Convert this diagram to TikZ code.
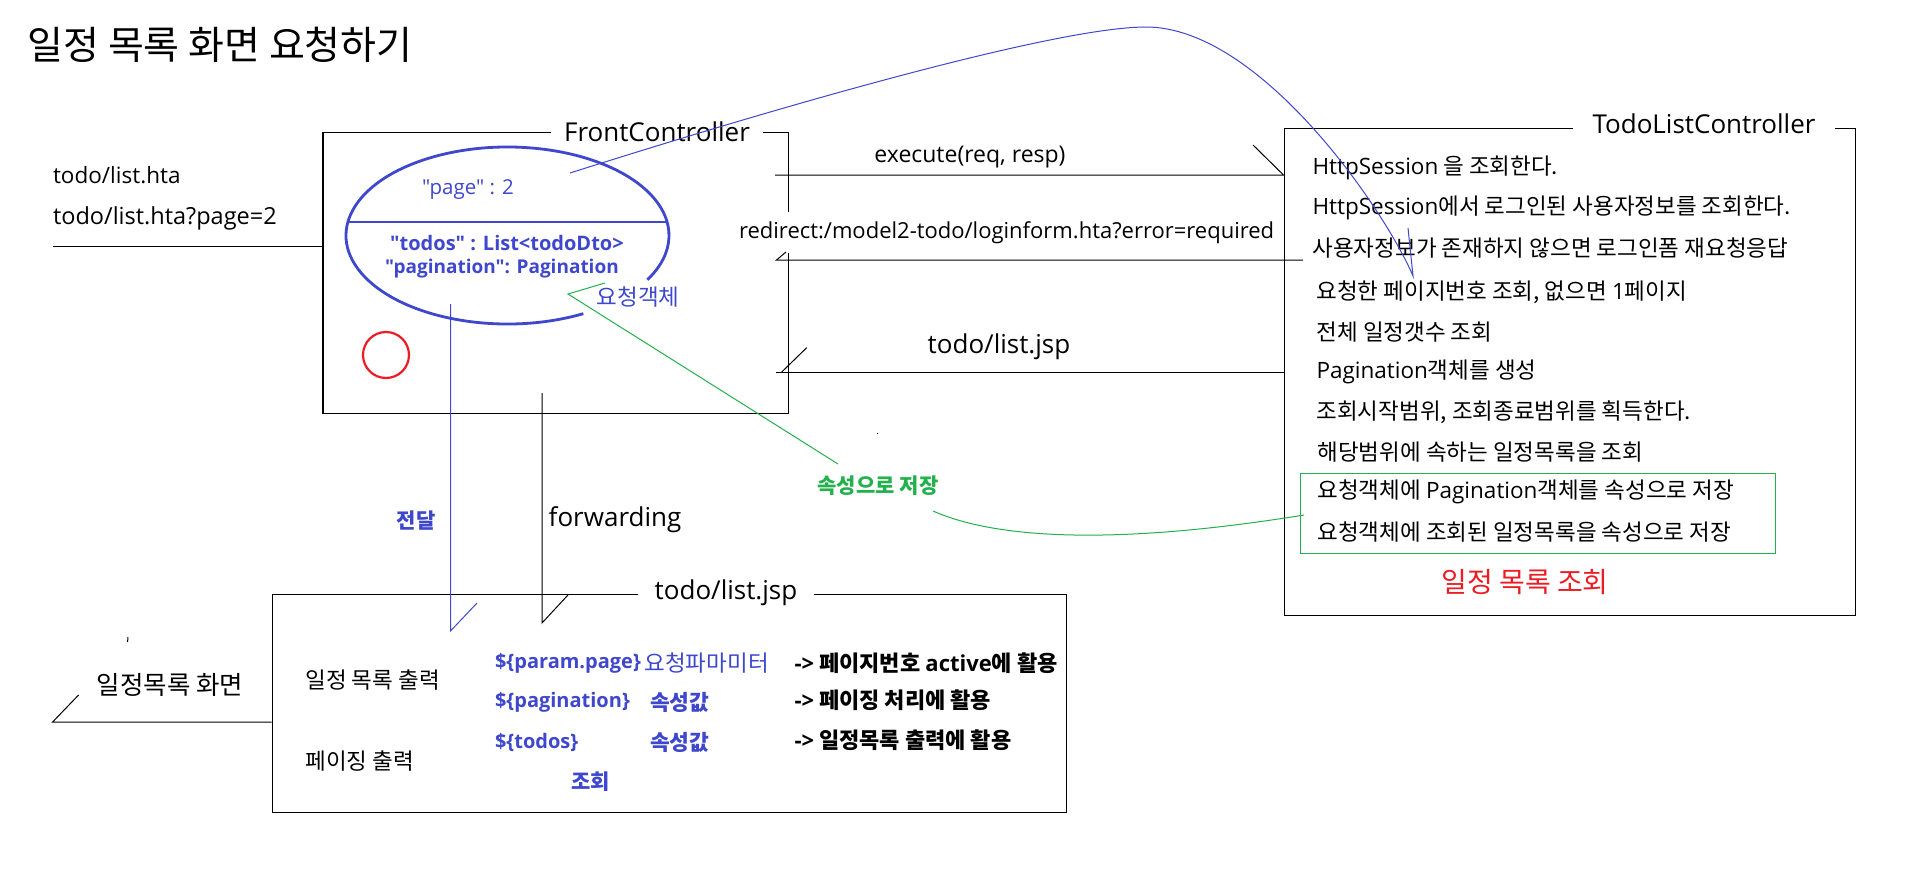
\documentclass[tikz,border=0pt]{standalone}
\usepackage{fontspec}
\setmainfont{Noto Sans CJK KR}
\newfontfamily\latf{Open Sans}
\newcommand\fsz[1]{\fontsize{#1}{#1}\selectfont}
\definecolor{pblue}{RGB}{63,72,204}
\definecolor{pgreen}{RGB}{34,177,76}
\definecolor{pred}{RGB}{237,28,36}
\begin{document}
\begin{tikzpicture}[x=1pt,y=-1pt,
  line width=1.1pt,
  lbl/.style={inner sep=0pt},
  boxs/.style={draw, line width=1.2pt, inner sep=0pt, anchor=north west},
  ttlgap/.style={fill=white, inner ysep=0pt, font=\latf\fsz{26}},
  kr/.style={inner sep=0pt, font=\fsz{22.5}},
  stroke/.style={line width=1pt},
]
\useasboundingbox (0,0) rectangle (1907,873);
\fill[white] (0,0) rectangle (1907,873);

% title
\node[lbl, anchor=west, font=\fsz{39}] (title) at (27,45) {일정 목록 화면 요청하기};

% request urls
\node[lbl, anchor=west, font=\latf\fsz{22.5}] (req1) at (52.5,175) {todo/list.hta};
\node[lbl, anchor=west, font=\latf\fsz{23.5}] (req2) at (52.5,218.5) {todo/list.hta?page=2};

% boxes
\node[boxs, minimum width=465.6pt, minimum height=281pt] (fc) at (322.4,132) {};
\node[boxs, minimum width=571.5pt, minimum height=487pt] (tlc) at (1283.5,128) {};
\node[boxs, minimum width=794.5pt, minimum height=218pt] (jsp) at (271.5,594) {};
\node[boxs, draw=pgreen, line width=1pt, minimum width=475pt, minimum height=80pt] (gbox) at (1300,473) {};

\node[ttlgap, inner xsep=13pt] (fct) at (657,132) {FrontController};
\node[ttlgap, inner xsep=20pt] (tlct) at (1704,124) {TodoListController};
\node[ttlgap, inner xsep=17pt] (jspt) at (726,592.5) {todo/list.jsp};

% request object ellipse
\draw[pblue, line width=2.8pt] (507.5,235.5) ++(62:161.5 and 88.5)
  arc[start angle=62, end angle=390, x radius=161.5, y radius=88.5];
\draw[pblue, line width=2.8pt] (347.9,222) -- (667.1,222);
\node[lbl, text=pblue, font=\latf\fsz{20.5}] (pg) at (468,190) {"page" : 2};
\node[lbl, text=pblue, font=\latf\bfseries\fsz{20}] (todos) at (507,243.5) {"todos" : List<todoDto>};
\node[lbl, text=pblue, font=\latf\bfseries\fsz{19}] (pagi) at (502,268.5) {"pagination": Pagination};
\node[lbl, text=pblue, font=\fsz{22.5}] (reqobj) at (638,297.5) {요청객체};

\draw[pred, line width=2.2pt] (386,355) circle[radius=23];

% TodoListController texts
\node[kr, anchor=west] (r1) at (1312,168) {{\latf HttpSession} 을 조회한다.};
\node[kr, anchor=west] (r2) at (1312,208) {{\latf HttpSession}에서 로그인된 사용자정보를 조회한다.};
\node[kr, anchor=west] (r3) at (1312,248) {사용자정보가 존재하지 않으면 로그인폼 재요청응답};
\node[kr, anchor=west] (r4) at (1316,292) {요청한 페이지번호 조회, 없으면 {\latf 1}페이지};
\node[kr, anchor=west] (r5) at (1316,332) {전체 일정갯수 조회};
\node[kr, anchor=west] (r6) at (1316,372) {{\latf Pagination}객체를 생성};
\node[kr, anchor=west] (r7) at (1316,412) {조회시작범위, 조회종료범위를 획득한다.};
\node[kr, anchor=west] (r8) at (1317,452) {해당범위에 속하는 일정목록을 조회};
\node[kr, anchor=west] (r9) at (1317,492) {요청객체에 {\latf Pagination}객체를 속성으로 저장};
\node[kr, anchor=west] (r10) at (1317,532) {요청객체에 조회된 일정목록을 속성으로 저장};
\node[lbl, text=pred, font=\fsz{28}] (rtitle) at (1525,582) {일정 목록 조회};

% middle labels
\node[lbl, font=\latf\fsz{23}] (exe) at (970,157.5) {execute(req, resp)};
\node[lbl, anchor=west, fill=white, inner ysep=9pt, font=\latf\fsz{22}] (redir) at (738.5,232.5) {redirect:/model2-todo/loginform.hta?error=required};
\node[lbl, font=\latf\fsz{26}] (ljsp) at (999,346.5) {todo/list.jsp};

% lower labels
\node[lbl, text=pblue, font=\bfseries\fsz{21}] (deliver) at (416,521) {전달};
\node[lbl, font=\latf\fsz{26}] (fwd) at (615,519.5) {forwarding};
\node[lbl, text=pgreen, font=\bfseries\fsz{21}] (save) at (878,486) {속성으로 저장};
\node[lbl, font=\fsz{25.5}] (screen) at (170,685) {일정목록 화면};

% todo/list.jsp contents
\node[kr, anchor=west] (o1) at (305,680) {일정 목록 출력};
\node[kr, anchor=west] (o2) at (305,761) {페이징 출력};
\node[lbl, anchor=west, text=pblue, font=\latf\bfseries\fsz{20}] (el1) at (494.5,663) {\$\{param.page\}};
\node[lbl, anchor=west, text=pblue, font=\fsz{22.5}] (ek1) at (644,663) {요청파마미터};
\node[lbl, anchor=west, font=\bfseries\fsz{22}] (eu1) at (794,663) {{\latf ->} 페이지번호 {\latf active}에 활용};
\node[lbl, anchor=west, text=pblue, font=\latf\bfseries\fsz{20}] (el2) at (494.5,702) {\$\{pagination\}};
\node[lbl, anchor=west, text=pblue, font=\bfseries\fsz{21.5}] (ek2) at (649.5,702) {속성값};
\node[lbl, anchor=west, font=\bfseries\fsz{22}] (eu2) at (794,700) {{\latf ->} 페이징 처리에 활용};
\node[lbl, anchor=west, text=pblue, font=\latf\bfseries\fsz{20}] (el3) at (494.5,742) {\$\{todos\}};
\node[lbl, anchor=west, text=pblue, font=\bfseries\fsz{21.5}] (ek3) at (649.5,742) {속성값};
\node[lbl, anchor=west, font=\bfseries\fsz{22}] (eu3) at (794,740) {{\latf ->} 일정목록 출력에 활용};
\node[lbl, text=pblue, font=\bfseries\fsz{21}] (lookup) at (590.5,782) {조회};

% connectors
\coordinate (inL) at (52.5,246);
\draw[stroke] (inL) -- (inL -| fc.west);

\coordinate (exA) at (775,175);
\coordinate (exB) at (exA -| tlc.west);
\draw[stroke] (exA) -- (exB) -- ++(-30.5,-30);

\coordinate (rdA) at (1303,260);
\coordinate (rdB) at (776.5,260);
\draw[stroke] (rdA) -- (rdB) -- ++(9.5,-8);

\coordinate (ljA) at (1284,372);
\coordinate (ljB) at (776,372);
\draw[stroke] (ljA) -- (ljB);
\draw[stroke] (781.7,372) -- (806.7,347.7);

\coordinate (fwA) at (542,393);
\coordinate (fwB) at (542,623);
\draw[stroke] (fwA) -- (fwB) -- (568,595);

\coordinate (dlA) at (450.5,304);
\coordinate (dlB) at (450.5,631);
\draw[stroke, pblue] (dlA) -- (dlB) -- (477,603);

\coordinate (scA) at (52.6,722);
\draw[stroke] (scA -| jsp.west) -- (scA) -- (78.6,695);

% blue curve page -> TodoListController
\coordinate (bcA) at (570,173);
\coordinate (bcB) at (1413,276);
\draw[stroke, pblue] (bcA) .. controls (800,100) and (1060,27) .. (1146,27)
  .. controls (1260,27) and (1385,210) .. (bcB) -- (1408,228);

% green connector
\coordinate (gcA) at (568,294);
\coordinate (gcB) at (838,464);
\coordinate (gcC) at (933,511);
\coordinate (gcD) at (1304,515);
\draw[stroke, pgreen] (605,283) -- (gcA) -- (gcB);
\draw[stroke, pgreen] (gcC) .. controls (1010,545) and (1150,540) .. (gcD);

% stray marks
\fill (876.5,432.5) rectangle (878,434);
\draw[stroke] (128,637) -- (127.6,642);
\end{tikzpicture}
\end{document}
